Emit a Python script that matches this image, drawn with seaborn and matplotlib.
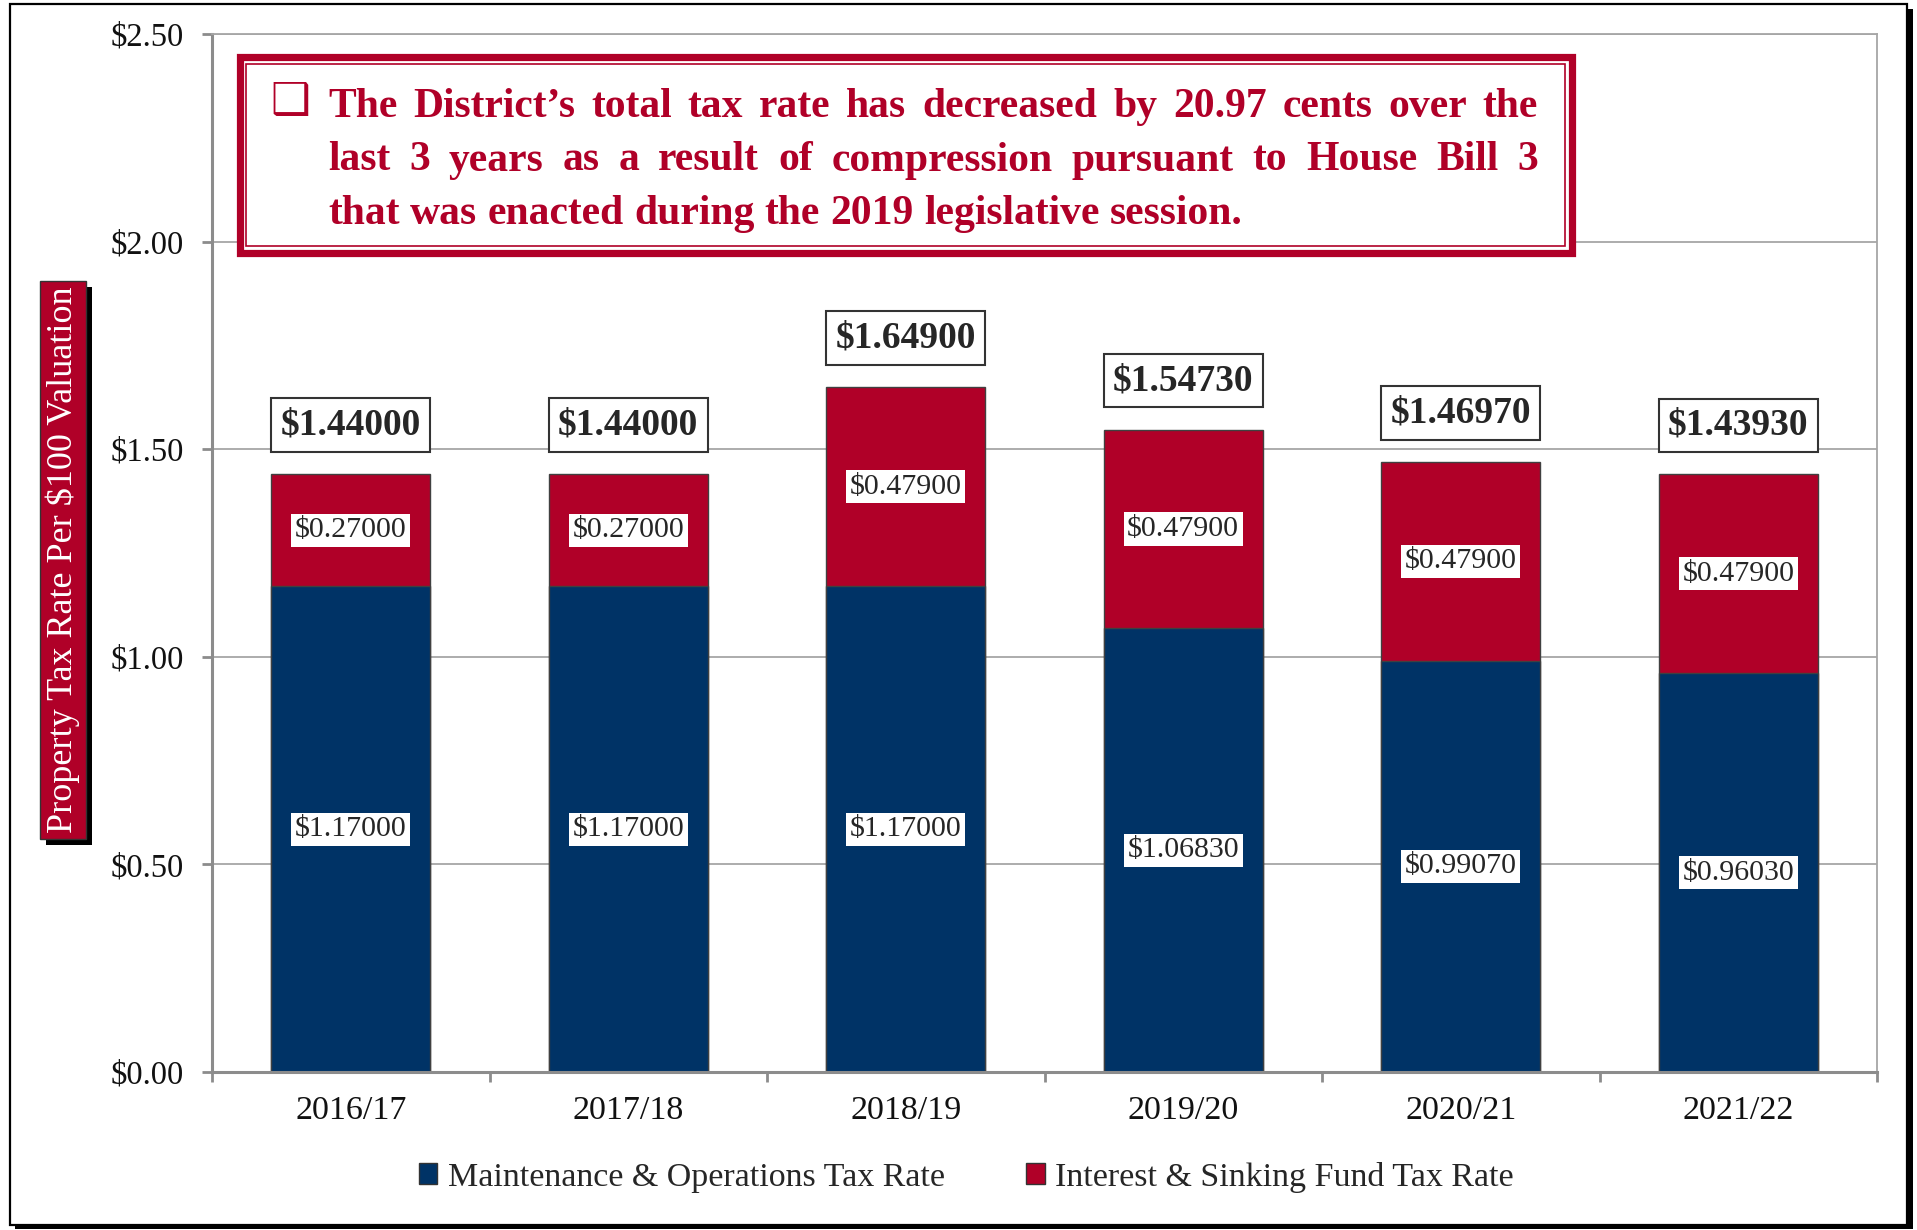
import numpy as np
import pandas as pd
import seaborn as sns
import matplotlib.pyplot as plt
from matplotlib.patches import Rectangle, Patch

# Chart data
years = ['2016/17', '2017/18', '2018/19', '2019/20', '2020/21', '2021/22']
mo_rate = [1.17, 1.17, 1.17, 1.0683, 0.9907, 0.9603]
is_rate = [0.27, 0.27, 0.479, 0.479, 0.479, 0.479]
y_ticks = [0.0, 0.5, 1.0, 1.5, 2.0, 2.5]
series_names = ['Maintenance & Operations Tax Rate', 'Interest & Sinking Fund Tax Rate']
y_label = 'Property Tax Rate Per $100 Valuation'
callout_lines = ['The District\u2019s total tax rate has decreased by 20.97 cents over the',
                 'last 3 years as a result of  compression pursuant to House Bill 3',
                 'that was enacted during the 2019 legislative session.']

NAVY = '#003366'
RED = '#B00028'
GRID = '#A6A6A6'
AXIS = '#8C8C8C'

df = pd.DataFrame({'year': years, 'mo': mo_rate, 'is': is_rate})
df['total'] = df['mo'] + df['is']

sns.set_theme(style='white')
plt.rcParams['font.family'] = ['Liberation Serif', 'DejaVu Serif']

W, H = 1917, 1230
fig = plt.figure(figsize=(W / 100, H / 100), dpi=100)


def px_rect(x0, y0, x1, y1, **kw):
    # rectangle given in pixel coords (origin top-left)
    r = Rectangle((x0 / W, 1 - y1 / H), (x1 - x0) / W, (y1 - y0) / H,
                  transform=fig.transFigure, **kw)
    fig.add_artist(r)
    return r


# outer frame with shadow
px_rect(15, 9, 1913, 1229, fc='black', ec='none', zorder=-3)
px_rect(10, 4, 1907, 1225, fc='white', ec='black', lw=1.6, zorder=-2)

ax = fig.add_axes([212 / W, 1 - 1072 / H, (1877 - 212) / W, (1072 - 34) / H])
ax.set_facecolor('white')

# stacked bars: total (red) behind, M&O (navy) in front
sns.barplot(data=df, x='year', y='total', color=RED, saturation=1, width=0.573,
            edgecolor='#404040', linewidth=1, errorbar=None, ax=ax, zorder=2)
sns.barplot(data=df, x='year', y='mo', color=NAVY, saturation=1, width=0.573,
            edgecolor='#404040', linewidth=1, errorbar=None, ax=ax, zorder=2)

for i, r in df.iterrows():
    ax.text(i, r['mo'] / 2, f"${r['mo']:.5f}", ha='center', va='center', fontsize=21.5,
            zorder=5, bbox=dict(boxstyle='square,pad=0.12', fc='white', ec='none'))
    ax.text(i, r['mo'] + r['is'] / 2, f"${r['is']:.5f}", ha='center', va='center',
            fontsize=21.5, zorder=5,
            bbox=dict(boxstyle='square,pad=0.12', fc='white', ec='none'))
    ax.text(i, r['total'] + 0.118, f"${r['total']:.5f}", ha='center', va='center',
            fontsize=27, fontweight='bold', zorder=5,
            bbox=dict(boxstyle='square,pad=0.25', fc='white', ec='#333333', lw=1.5))

ax.set_xlim(-0.5, 5.5)
ax.set_ylim(0, 2.5)
ax.set_yticks(y_ticks)
ax.set_yticklabels([f'${v:.2f}' for v in y_ticks])
ax.set_xlabel('')
ax.set_ylabel('')
ax.yaxis.grid(True, color=GRID, lw=1.3)
ax.set_axisbelow(True)
for s in ['left', 'bottom']:
    ax.spines[s].set_color(AXIS)
    ax.spines[s].set_linewidth(2.2)
for s in ['right', 'top']:
    ax.spines[s].set_color(GRID)
    ax.spines[s].set_linewidth(1.3)
ax.set_xticks(np.arange(-0.5, 6), minor=True)
ax.tick_params(axis='y', left=True, length=7, width=2, color=AXIS, direction='out',
               pad=13, labelsize=23.5, labelcolor='#111111')
ax.tick_params(axis='x', which='major', bottom=True, length=0, pad=17, labelsize=24.5,
               labelcolor='#111111')
ax.tick_params(axis='x', which='minor', bottom=True, length=7, width=2, color=AXIS,
               direction='out')

renderer = fig.canvas.get_renderer()

# y-axis label in a red box with a black drop shadow
ylab = fig.text(0.0329, 0.5447, y_label, rotation=90, ha='center', va='center',
                fontsize=26, color='white', zorder=2,
                bbox=dict(boxstyle='square,pad=0.15', fc=RED, ec='#333333', lw=1))
fig.canvas.draw()
bb = ylab.get_bbox_patch().get_window_extent(renderer)
px_rect(bb.x0 + 6, H - bb.y1 + 6, bb.x1 + 6, H - bb.y0 + 6, fc='black', ec='none',
        zorder=1)

# callout box with double red border
px_rect(239.5, 57.5, 1571.5, 252.5, fc='white', ec=RED, lw=5.2, zorder=6)
px_rect(246, 64, 1565, 246, fc='none', ec=RED, lw=1.2, zorder=7)

fig.text(290 / W, 1 - 101 / H, '\u2751', family='DejaVu Sans', color=RED, fontsize=32,
         ha='center', va='center', zorder=8)


def justify_line(text, x0, x1, y, justify=True, **kw):
    words = text.split()
    objs = [fig.text(0, y, w, va='baseline', ha='left', zorder=8, **kw) for w in words]
    widths = [o.get_window_extent(renderer).width / fig.bbox.width for o in objs]
    if justify:
        gap = (x1 - x0 - sum(widths)) / (len(words) - 1)
    else:
        sp = fig.text(0, 0, 'a a', **kw).get_window_extent(renderer).width
        sp -= 2 * fig.text(0, 0, 'a', **kw).get_window_extent(renderer).width
        gap = sp / fig.bbox.width
        for t in fig.texts[-2:]:
            t.remove()
    x = x0
    for o, w in zip(objs, widths):
        o.set_x(x)
        x += w + gap


line_base = [117, 170.5, 224]
for k, line in enumerate(callout_lines):
    justify_line(line, 328 / W, 1538 / W, 1 - line_base[k] / H, justify=(k < 2),
                 fontsize=30, fontweight='bold', color=RED)

# legend
handles = [Patch(fc=NAVY, ec='#333333', lw=1), Patch(fc=RED, ec='#333333', lw=1)]
fig.legend(handles, series_names, loc='center', bbox_to_anchor=(0.504, 0.043), ncol=2,
           frameon=False, fontsize=24.5, handlelength=0.55, handleheight=0.55,
           handletextpad=0.3, columnspacing=2.4)

fig.savefig('out.png', dpi=100)
